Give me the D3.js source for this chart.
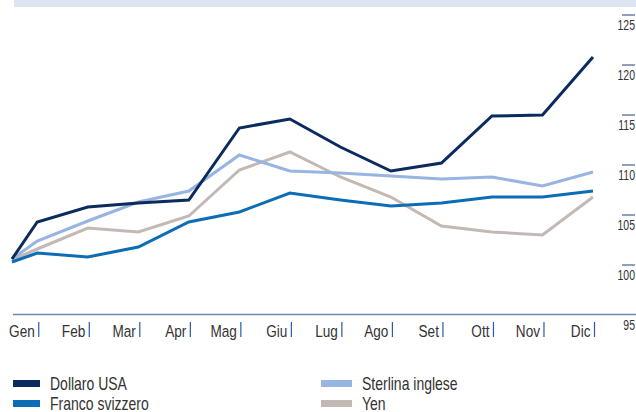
<!DOCTYPE html>
<html><head><meta charset="utf-8">
<script src="https://cdn.jsdelivr.net/npm/d3@7/dist/d3.min.js"></script>
<style>
html,body{margin:0;padding:0;background:#fff;}
svg{display:block;}
text{font-family:"Liberation Sans",Arial,sans-serif;fill:#333;}
</style></head><body>
<svg id="chart" width="636" height="412"></svg>
<script>
const months = ["Gen","Feb","Mar","Apr","Mag","Giu","Lug","Ago","Set","Ott","Nov","Dic"];
// first value = starting level, then month-end values
const dollaro  = [100.5,104.2,105.7,106.1,106.4,113.6,114.5,111.7,109.3,110.1,114.8,114.9,120.7];
const franco   = [100.2,101.1,100.7,101.7,104.2,105.2,107.1,106.4,105.8,106.1,106.7,106.7,107.3];
const sterlina = [100.5,102.3,104.3,106.2,107.3,110.9,109.3,109.1,108.8,108.5,108.7,107.8,109.2];
const yen      = [100.4,101.5,103.6,103.2,104.8,109.4,111.2,108.7,106.7,103.8,103.2,102.9,106.7];
const yTicks = [95,100,105,110,115,120,125];
const seriesNames = ["Dollaro USA","Franco svizzero","Sterlina inglese","Yen"];
const seriesColors = ["#0b2a5e","#0a6db5","#98b4e0","#c2b9b5"];

const svg = d3.select("#chart");
const x = d3.scaleLinear().domain([-0.5, 11]).range([12, 593]);
const y = d3.scaleLinear().domain([95, 125]).range([314, 14]);

function narrow(sel, tx, ty, sx){
  sel.attr("x",0).attr("y",0).attr("dy",null)
     .attr("transform",`translate(${tx},${ty}) scale(${sx},1)`);
}

// top band
svg.append("rect").attr("x",14).attr("y",0).attr("width",622).attr("height",7).attr("fill","#dce3f1");

// y axis (right)
const yAxis = svg.append("g").attr("transform","translate(636,0)")
  .call(d3.axisLeft(y).tickValues(yTicks).tickSize(0).tickFormat(d3.format("d")));
yAxis.select(".domain").remove();
yAxis.selectAll("text").call(narrow,-1,15.5,0.7).attr("text-anchor","end")
  .style("font-size","15px").attr("fill","#333");
yAxis.selectAll(".tick").filter(d=>d!==95).append("line")
  .attr("x1",-14).attr("x2",-1).attr("y1",0.5).attr("y2",0.5).attr("stroke","#1f3f78").attr("stroke-width",1);

// x axis
const xAxis = svg.append("g").attr("transform","translate(0,314)")
  .call(d3.axisBottom(x).tickValues(d3.range(12)).tickFormat(i=>months[i]).tickSize(0));
xAxis.select(".domain").remove();
xAxis.selectAll("text").call(narrow,-3,23,0.8).attr("text-anchor","end")
  .style("font-size","17px").attr("fill","#333");
xAxis.selectAll(".tick line").attr("x1",1).attr("x2",1).attr("y1",8).attr("y2",23)
  .attr("stroke","#2a5aa8").attr("stroke-width",1.2);
svg.append("line").attr("x1",13).attr("x2",636).attr("y1",314.5).attr("y2",314.5)
  .attr("stroke","#6b88b8").attr("stroke-width",1.5);

// lines
const xi = i => x(i === 0 ? -0.5 : i - 1);
const line = d3.line().x((d,i)=>xi(i)).y(d=>y(d));
const data = [dollaro, franco, sterlina, yen];
// draw order: yen, sterlina, franco, dollaro on top
[3,2,1,0].forEach(k=>{
  svg.append("path").datum(data[k]).attr("d",line).attr("fill","none")
    .attr("stroke",seriesColors[k]).attr("stroke-width",3).attr("stroke-linejoin","miter");
});

// legend
const legPos = [[13,380,27],[13,400,27],[321,380,31],[321,400,31]];
seriesNames.forEach((n,k)=>{
  const [lx,ly,w] = legPos[k];
  svg.append("rect").attr("x",lx).attr("y",ly).attr("width",w).attr("height",7).attr("fill",seriesColors[k]);
  svg.append("text").text(n).call(narrow,lx+w+10,ly+9.5,0.8).style("font-size","17.5px").attr("fill","#333");
});
</script>
</body></html>
